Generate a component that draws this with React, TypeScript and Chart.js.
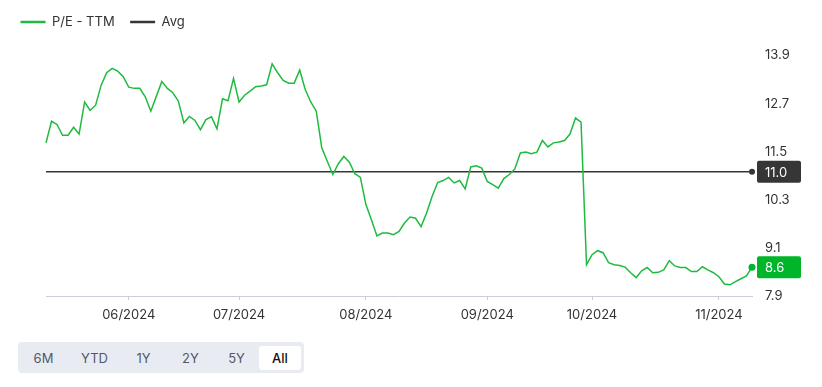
import React, { useEffect, useRef } from "react";
import { Chart, registerables } from "chart.js";

Chart.register(...registerables);

const MONTH_LABELS = ["05/2024", "06/2024", "07/2024", "08/2024", "09/2024", "10/2024", "11/2024"];
const POINTS_PER_MONTH = [15, 20, 23, 22, 19, 23, 7];

const PE_TTM = [
  11.72, 12.26, 12.18, 11.91, 11.91, 12.11, 11.94, 12.74, 12.53, 12.66,
  13.16, 13.47, 13.58, 13.51, 13.37, 13.11, 13.08, 13.08, 12.87, 12.51,
  12.88, 13.25, 13.08, 12.97, 12.76, 12.22, 12.38, 12.28, 12.05, 12.30,
  12.37, 12.07, 12.82, 12.77, 13.33, 12.74, 12.91, 13.01, 13.12, 13.14,
  13.17, 13.69, 13.47, 13.28, 13.21, 13.21, 13.54, 13.05, 12.74, 12.51,
  11.60, 11.26, 10.93, 11.20, 11.38, 11.24, 10.95, 10.86, 10.18, 9.80,
  9.40, 9.47, 9.47, 9.43, 9.51, 9.72, 9.87, 9.84, 9.63, 9.97,
  10.38, 10.73, 10.78, 10.86, 10.72, 10.78, 10.57, 11.12, 11.15, 11.09,
  10.76, 10.68, 10.59, 10.83, 10.93, 11.07, 11.47, 11.49, 11.45, 11.49,
  11.78, 11.62, 11.72, 11.74, 11.78, 11.94, 12.34, 12.24, 8.68, 8.93,
  9.03, 8.98, 8.73, 8.68, 8.66, 8.62, 8.48, 8.36, 8.53, 8.61,
  8.48, 8.49, 8.55, 8.78, 8.65, 8.61, 8.61, 8.51, 8.51, 8.63,
  8.55, 8.48, 8.38, 8.20, 8.18, 8.26, 8.33, 8.40, 8.62,
];

const AVG_PE = 11.0;
const Y_TICKS = [7.9, 9.1, 10.3, 11.5, 12.7, 13.9];
const RANGE_BUTTONS = ["6M", "YTD", "1Y", "2Y", "5Y", "All"];
const SELECTED_RANGE = "All";

const GREEN = "#1fbb3f";
const BADGE_GREEN = "#00b52a";
const DARK = "#363636";
const TEXT = "#333333";
const AXIS_GRAY = "#c9ced8";

const CANVAS_W = 822;
const CANVAS_H = 335;
const BUTTON_WIDTHS = [51, 51, 47, 47, 45, 42];

export default function App() {
  const ref = useRef<HTMLCanvasElement | null>(null);

  useEffect(() => {
    if (!ref.current) return;
    Chart.defaults.font.family = "Inter, 'Noto Sans', sans-serif";
    Chart.defaults.font.size = 13;
    Chart.defaults.color = TEXT;

    const labels = MONTH_LABELS.flatMap((m, i) => Array(POINTS_PER_MONTH[i]).fill(m));
    const monthStarts: number[] = [];
    let acc = 0;
    POINTS_PER_MONTH.forEach((n, i) => {
      if (i > 0) monthStarts.push(acc);
      acc += n;
    });
    const last = PE_TTM.length - 1;
    const avgData = PE_TTM.map(() => AVG_PE);

    const legendSpacer = {
      id: "legendSpacer",
      beforeInit(chart: any) {
        if (!chart.legend) return;
        const orig = chart.legend.fit;
        chart.legend.fit = function () {
          orig.call(this);
          this.height += 17;
        };
      },
    };

    const badges = {
      id: "badges",
      afterDraw(chart: any) {
        const ctx = chart.ctx;
        const ys = chart.scales.y;
        const right = chart.chartArea.right;
        const items = [
          { v: AVG_PE, color: DARK },
          { v: PE_TTM[last], color: BADGE_GREEN },
        ];
        ctx.save();
        items.forEach((it) => {
          const y = ys.getPixelForValue(it.v);
          const x = right + 5;
          const w = 44;
          const h = 22;
          ctx.fillStyle = it.color;
          ctx.beginPath();
          if (ctx.roundRect) ctx.roundRect(x, y - h / 2, w, h, 2);
          else ctx.rect(x, y - h / 2, w, h);
          ctx.fill();
          ctx.fillStyle = "#ffffff";
          ctx.font = "13px Inter, 'Noto Sans', sans-serif";
          ctx.textAlign = "left";
          ctx.textBaseline = "middle";
          ctx.fillText(it.v.toFixed(1), right + 13, y + 1);
        });
        ctx.restore();
      },
    };

    const chart = new Chart(ref.current, {
      type: "line",
      data: {
        labels,
        datasets: [
          {
            label: "P/E - TTM",
            data: PE_TTM,
            borderColor: GREEN,
            backgroundColor: GREEN,
            borderWidth: 1.5,
            tension: 0,
            pointRadius: (c: any) => (c.dataIndex === last ? 3.5 : 0),
            pointBackgroundColor: BADGE_GREEN,
            pointBorderWidth: 0,
            clip: false as any,
            yAxisID: "y",
          },
          {
            label: "Avg",
            data: avgData,
            borderColor: DARK,
            backgroundColor: DARK,
            borderWidth: 1.5,
            tension: 0,
            pointRadius: (c: any) => (c.dataIndex === last ? 3 : 0),
            pointBackgroundColor: DARK,
            pointBorderWidth: 0,
            clip: false as any,
            yAxisID: "y",
          },
        ],
      },
      options: {
        responsive: false,
        animation: false,
        layout: { padding: { left: 5, right: 0, top: 0, bottom: 0 } },
        plugins: {
          tooltip: { enabled: false },
          legend: {
            display: true,
            position: "top",
            align: "start",
            labels: {
              usePointStyle: true,
              pointStyle: "line",
              pointStyleWidth: 25,
              boxHeight: 13,
              padding: 15.5,
              color: TEXT,
              font: { size: 13 },
              generateLabels: (c: any) =>
                Chart.defaults.plugins.legend.labels.generateLabels(c).map((l: any) => ({
                  ...l,
                  lineWidth: 2.5,
                  pointStyle: "line",
                })),
            },
          },
        },
        scales: {
          x: {
            type: "category",
            offset: false,
            grid: {
              display: true,
              drawOnChartArea: false,
              drawTicks: true,
              tickLength: 4,
              color: AXIS_GRAY,
            },
            border: { display: true, color: AXIS_GRAY, width: 1 },
            ticks: {
              autoSkip: false,
              maxRotation: 0,
              padding: 7,
              color: TEXT,
              font: { size: 13 },
            },
            afterBuildTicks: (s: any) => {
              s.ticks = monthStarts.map((v) => ({ value: v }));
            },
            afterFit: (s: any) => {
              s.height = 39;
            },
          },
          yLeft: {
            type: "linear",
            position: "left",
            display: true,
            grid: { display: false },
            border: { display: false },
            ticks: { display: false },
            afterFit: (s: any) => {
              s.width = 41;
            },
          },
          y: {
            type: "linear",
            position: "right",
            min: 7.9,
            max: 13.9,
            grid: { display: false, drawTicks: false },
            border: { display: false },
            ticks: {
              padding: 13,
              color: TEXT,
              font: { size: 13 },
              callback: (v: any) => Number(v).toFixed(1),
            },
            afterBuildTicks: (s: any) => {
              s.ticks = Y_TICKS.map((v) => ({ value: v }));
            },
            afterFit: (s: any) => {
              s.width = 70;
            },
          },
        },
      } as any,
      plugins: [legendSpacer, badges],
    });

    return () => chart.destroy();
  }, []);

  return (
    <div
      style={{
        position: "fixed",
        left: 0,
        top: 0,
        width: CANVAS_W,
        height: 387,
        background: "#ffffff",
        fontFamily: "Inter, 'Noto Sans', sans-serif",
      }}
    >
      <canvas
        ref={ref}
        width={CANVAS_W}
        height={CANVAS_H}
        style={{ position: "absolute", left: 0, top: 0, width: CANVAS_W, height: CANVAS_H }}
      />
      <div
        style={{
          position: "absolute",
          left: 18,
          top: 342,
          height: 31,
          boxSizing: "border-box",
          padding: "4px 3px 3px 0",
          display: "flex",
          background: "#e8ecf2",
          borderRadius: 4,
        }}
      >
        {RANGE_BUTTONS.map((b, i) => {
          const sel = b === SELECTED_RANGE;
          return (
            <div
              key={b}
              style={{
                width: BUTTON_WIDTHS[i],
                height: 24,
                lineHeight: "24px",
                textAlign: "center",
                fontSize: 13,
                color: sel ? "#111111" : "#505a66",
                fontWeight: sel ? 500 : 400,
                background: sel ? "#ffffff" : "transparent",
                borderRadius: 3,
              }}
            >
              {b}
            </div>
          );
        })}
      </div>
    </div>
  );
}
